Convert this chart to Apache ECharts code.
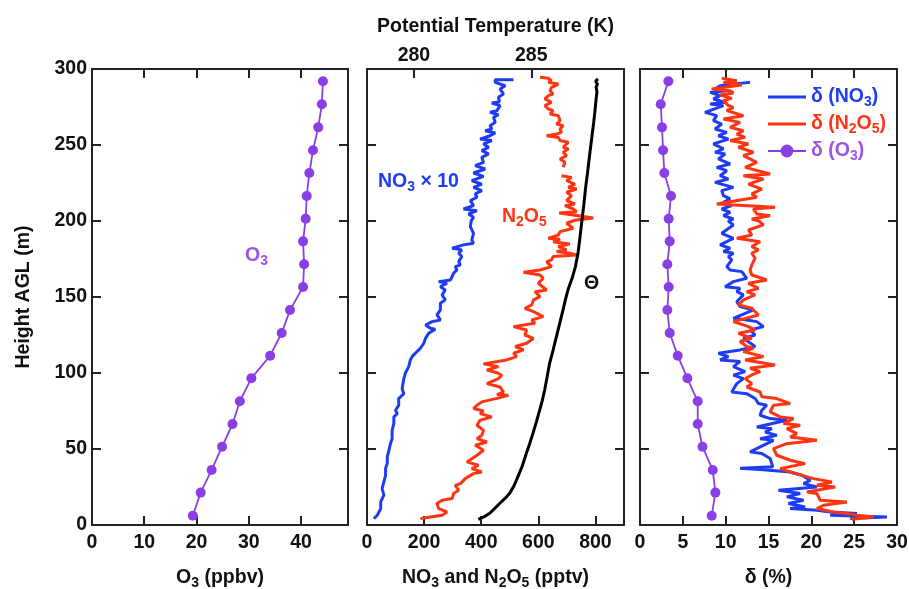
<!DOCTYPE html>
<html>
<head>
<meta charset="utf-8">
<script src="https://cdn.jsdelivr.net/npm/echarts@6/dist/echarts.min.js"></script>
<style>html,body{margin:0;padding:0;background:#fff}#c{width:909px;height:589px}</style>
</head>
<body>
<div id="c"></div>
<script>
// ---------- DATA ----------
// O3 profile (panel 1) and its uncertainty (panel 3)
const o3H = [6.1,21.3,36.2,51.5,66.4,81.4,96.5,111.4,126.3,141.4,156.6,171.5,186.6,201.5,216.5,231.6,246.5,261.6,276.8,291.9];
const o3V = [19.3,20.8,22.9,24.9,26.9,28.3,30.5,34.1,36.3,37.9,40.4,40.6,40.4,40.9,41.1,41.6,42.3,43.3,44.0,44.2];
const dO3V = [8.37,8.80,8.49,7.29,6.74,6.74,5.53,4.40,3.47,3.19,3.35,3.19,3.47,3.35,3.62,2.84,2.69,2.57,2.42,3.31];

// NO3 x 10 (pptv), panel 2
const no3H = [4.2,6.4,10.8,15.2,19.6,23.9,28.3,32.7,37.1,40.4,44.8,49.2,53.5,56.8,62.3,66.7,71.1,73.3,75.5,78.8,83.2,86.4,89.7,96.3,100.2,104.2,108.6,110.8,114.1,116.3,119.6,122.8,126.1,128.8,129.4,131.6,133.8,134.9,138.2,141.5,145.9,148.1,151.4,154.6,156.8,157.9,159,160.1,161.2,163.4,165.6,167.8,170,171.1,173.3,176.6,178.8,181,182.1,183.2,184.3,185.3,187.5,191.9,196.3,200.2,202.4,204.6,206.8,207.9,210.1,213.4,215.6,217.8,220,222.1,224.3,226.5,229.4,231.6,234.2,236.4,238.6,241.9,244.1,246.3,248.5,250.7,252.9,253.9,256.1,257.9,259.4,260.5,262.7,264.9,268.2,270,271.5,272.6,275.9,277.6,278.5,281.4,283.6,286.8,289,291.2,293,293];
const no3V = [24,36,48,48,59,53,59,65,65,71,71,77,82,88,88,94,94,106,100,111,111,129,123,129,135,146,152,158,175,187,199,205,216,239,222,205,228,257,245,257,257,274,263,274,257,268,280,251,292,298,303,315,309,327,321,332,321,332,298,303,338,373,367,373,362,365,373,356,385,338,373,362,385,379,402,373,402,367,408,373,414,379,408,402,426,402,426,408,437,396,431,449,414,437,431,449,443,460,431,455,466,437,464,460,478,466,484,449,449,513];

// N2O5 (pptv), panel 2 (null = data gap)
const n2o5H = [4.2,5.3,6.4,8.6,10.8,14.1,16.3,17.4,20.7,22.9,26.1,27.2,30.5,33.8,34.9,37.1,39.3,41.5,45.9,49.2,52.5,54.6,56.8,59,62.3,65.6,68.9,71.1,73.3,75,76.6,78.8,81,83.8,85.4,85.8,87.5,90.8,93,96.3,98.5,100.2,102,104.2,106,108.6,110.8,113,115.2,117.4,119.6,122.8,125,128.3,130.5,132.7,134.9,137.1,140.4,142.6,144.8,148.1,150.3,153.5,154.6,159,162.3,164.5,166.3,167.8,170,173.3,174.4,176.6,177.7,178.8,179.9,181,183.2,184.9,186.4,188,188.6,190.8,193,195.2,198.5,200.5,202,203.5,205.3,206.1,207.9,210.1,211.2,213.4,216.7,218.9,221,222.1,224.3,226.5,228.7,229.8,232.5,235.3,236.4,238.6,240.8,243,245.2,247.4,248.5,251.8,252.9,255,256.1,257.2,258.3,260.5,262.7,263.8,266,269.3,270.4,272.6,273.7,275.9,278.1,280.3,282.5,283.6,285.7,287.9,290.1,291.2,292.3,293.9,294.5];
const n2o5V = [187,222,263,280,251,245,263,298,303,321,309,327,344,373,402,367,390,350,385,408,379,420,385,402,408,385,396,437,396,408,373,385,402,466,495,455,478,466,420,460,472,455,420,460,408,489,524,513,548,519,559,583,553,559,513,588,577,617,583,553,577,583,606,588,629,600,617,606,548,606,646,629,646,652,734,710,664,699,670,710,652,676,635,670,676,722,699,728,792,740,673,734,722,693,728,699,716,699,734,705,728,699,716,681,null,687,681,693,676,699,687,705,687,705,676,670,629,664,681,676,687,664,676,670,641,652,635,623,646,623,635,652,641,646,670,635,646,635,606];

// Potential temperature (K), panel 2 top axis
const thetaH = [3.7,5.5,7.7,11,14.3,17.5,20.9,26,31.8,39,47.2,53,60.3,68,75.7,82,88.8,97,106.4,115,123.9,132,141.4,148,154.6,163.4,170,178.7,190,200.7,211,222.6,231,240.1,249,257.7,265,272,280,285,288,290,292,293.5];
const thetaV = [282.74,283.0,283.23,283.45,283.66,283.88,284.08,284.27,284.43,284.62,284.79,284.92,285.07,285.22,285.36,285.47,285.57,285.67,285.78,285.93,286.07,286.2,286.35,286.45,286.56,286.76,286.88,286.99,287.08,287.16,287.24,287.32,287.39,287.46,287.53,287.6,287.66,287.71,287.76,287.8,287.76,287.82,287.74,287.84];

// delta(NO3) %, panel 3
const dNo3H = [4.2,5.3,6.4,7.5,8.6,9.7,10.8,11.9,14.1,16.3,18.5,20.7,22.8,25,27.2,29.4,32.7,34.9,36.5,37.3,38.3,43.7,47,48.1,53.5,55.7,56.8,59,61.2,63.4,64.5,68.9,70,72.2,75.5,78.8,79.9,83.2,86.4,87.5,93,96.3,98.6,100.9,104.2,107.5,108.6,110.8,113,115.2,117.4,122.8,125,128.3,130.5,133.8,134.9,136,141.5,143.7,147,151.4,153.5,155.7,156.8,160.1,162.3,166.7,167.8,170,174.4,176.6,178.8,179.9,182.1,184.3,188.6,191.9,197.4,199.9,201.3,203.5,205.7,207.9,210.1,212.3,214.5,216.7,220,222.1,225.4,227.6,229.8,233.1,235.3,237.5,240.8,244.1,245.2,247.4,250.7,253.9,256.1,258.3,260.5,263.8,266,269.3,271.5,275.9,277,278.1,280.3,282.5,284.6,285.7,286.8,289,290.1,291.2];
const dNo3V = [24.54,28.83,22.2,25.32,22.2,20.65,17.53,19.28,17.33,19.09,17.14,18.7,16.16,20.65,19.09,19.87,18.89,17.53,14.0,11.68,15.5,15.19,14.22,12.85,14.8,15.58,14.02,15.97,14.61,15.39,13.63,17.14,15.19,14.02,14.22,14.8,13.83,13.44,12.46,10.71,11.3,12.07,10.9,12.27,10.9,11.68,9.35,10.32,9.15,11.68,13.44,12.07,13.44,12.85,14.41,13.63,12.46,10.9,13.24,11.68,11.3,12.07,11.3,11.68,9.93,10.9,12.46,11.88,10.52,10.13,10.71,10.32,10.9,9.74,10.52,9.35,10.9,9.54,10.9,10.3,10.9,9.74,10.52,9.54,10.71,9.74,10.52,9.74,9.54,10.9,8.76,10.32,9.35,10.13,8.96,10.52,9.15,9.93,8.76,9.74,8.57,10.32,9.15,10.13,8.76,9.54,8.57,8.96,7.59,9.74,8.18,9.93,8.57,9.35,8.18,10.13,8.76,9.35,10.9,12.85];

// delta(N2O5) %, panel 3
const dN2o5H = [3.8,5.3,6.4,7.5,8.6,10.8,13,15.2,16.3,20.7,21.7,25,26.1,28.3,30.5,34.9,37.1,40.4,42.6,45.9,50.3,53.5,55.7,57.9,60.1,63.4,65.6,66.7,70,71.1,74.4,78.8,79.9,83.2,84.3,87.5,90.8,93,96.3,98.7,100.9,103.1,105.3,108.6,110.8,114.1,116.3,117.4,120.7,122.8,126.1,128.3,130.5,133.8,138.2,142.6,144.8,148.1,151.4,153.5,155.7,159,161.2,164.5,167.8,171.1,175.5,178.8,181,183.2,186.4,188.6,190.8,194.1,197.4,199.9,201.3,203.5,204.6,207.9,209,211.2,215.6,217.8,221,224.3,227.6,229.8,230.9,235.3,238.6,243,245.2,248.5,250.7,252.9,255,257.2,259.4,261.6,264.9,267.1,269.3,272.6,274.8,275.9,279.2,280.7,282.9,284.2,285.7,286.8,289.5,291.2,292.3,293.9];
const dN2o5V = [24.74,27.27,25.32,24.15,22.59,20.65,21.42,24.15,21.03,20.65,19.48,22.79,20.65,22.4,20.26,17.53,16.36,19.28,17.53,15.97,15.58,17.14,20.65,17.53,18.31,17.14,18.7,16.75,17.92,16.36,15.19,15.58,17.53,15.97,14.22,14.02,12.46,13.05,12.27,13.05,14.02,12.85,15.77,12.27,14.41,12.07,13.24,12.46,11.68,13.05,11.49,13.44,12.66,10.9,13.83,13.05,11.49,12.07,13.44,12.46,13.83,12.66,14.8,13.05,12.85,13.05,13.44,13.05,13.83,13.05,14.02,11.3,13.05,12.66,14.41,13.9,13.05,15.19,13.63,13.24,15.77,8.96,13.63,13.05,14.22,12.66,14.41,12.07,15.19,12.27,13.63,12.07,13.24,11.49,12.66,10.52,12.27,11.3,12.07,10.52,11.68,9.74,12.07,10.13,10.9,10.32,9.74,10.71,9.35,10.9,10.52,8.37,11.88,9.74,11.3,9.54];

// Axis ticks
const thetaTicks = [280,285];

// ---------- STYLE ----------
const FF = '"Liberation Sans", Arial, Helvetica, sans-serif';
const FS = 19.5, SS = 14;
const BLUE = '#1f3cf5', RED = '#ff3412', PURPLE = '#8a3ee6', PURPLE_T = '#9b55e6', BLACK = '#000';
const FRAME = '#222';
function rich(color, p, key) {
  const o = {};
  o[p + 'b'] = {fontFamily: FF, fontSize: FS, fontWeight: 'bold', lineHeight: 24};
  o[p + 's'] = {fontFamily: FF, fontSize: SS, fontWeight: 'bold', lineHeight: 12, verticalAlign: 'bottom'};
  o[p + 'b'][key] = color; o[p + 's'][key] = color;
  return o;
}
const pair = (xs, hs) => xs.map((x, i) => x == null ? ['-', '-'] : [x, hs[i]]);

const tickStyle = {show: true, inside: true, length: 9, lineStyle: {color: FRAME, width: 2}};
const lineStyle = {show: true, onZero: false, lineStyle: {color: FRAME, width: 2}};
const labelStyle = {fontFamily: FF, fontSize: FS, fontWeight: 'bold', color: '#111'};

function xAx(grid, pos, min, max, interval, showLabel, extra) {
  return Object.assign({
    type: 'value', gridIndex: grid, position: pos, min: min, max: max, interval: interval,
    axisLine: lineStyle, axisTick: tickStyle, splitLine: {show: false},
    axisLabel: Object.assign({show: showLabel, margin: pos === 'top' ? 3 : 8, showMaxLabel: max % interval === 0}, labelStyle)
  }, extra || {});
}
function yAx(grid, pos, showLabel, extra) {
  return Object.assign({
    type: 'value', gridIndex: grid, position: pos, min: 0, max: 300, interval: 50,
    axisLine: lineStyle, axisTick: tickStyle, splitLine: {show: false},
    axisLabel: Object.assign({show: showLabel, margin: 5}, labelStyle)
  }, extra || {});
}

const allRich = Object.assign({}, rich('#111', 'k', 'color'), rich(BLUE, 'n', 'color'), rich(RED, 'r', 'color'), rich(PURPLE_T, 'p', 'color'));
const gRich = Object.assign({}, rich('#111', 'k', 'fill'), rich(BLUE, 'n', 'fill'), rich(RED, 'r', 'fill'), rich(PURPLE_T, 'p', 'fill'));
const nameStyle = {rich: allRich};

const option = {
  animation: false,
  backgroundColor: '#fff',
  grid: [
    {left: 92, top: 69, width: 256, height: 456, containLabel: false, outerBoundsMode: 'none'},
    {left: 367, top: 69, width: 257, height: 456, containLabel: false, outerBoundsMode: 'none'},
    {left: 640, top: 69, width: 257, height: 456, containLabel: false, outerBoundsMode: 'none'}
  ],
  xAxis: [
    xAx(0, 'bottom', 0, 49, 10, true, {name: '{kb|O}{ks|3}{kb| (ppbv)}', nameLocation: 'middle', nameGap: 41, nameTextStyle: nameStyle}),
    xAx(0, 'top', 0, 49, 10, false),
    xAx(1, 'bottom', 0, 900, 200, true, {name: '{kb|NO}{ks|3}{kb| and N}{ks|2}{kb|O}{ks|5}{kb| (pptv)}', nameLocation: 'middle', nameGap: 41, nameTextStyle: nameStyle}),
    xAx(1, 'top', 278, 288.95, 1, true, {
      name: '{kb|Potential Temperature (K)}', nameLocation: 'middle', nameGap: 30, nameTextStyle: nameStyle,
      axisTick: Object.assign({}, tickStyle, {customValues: thetaTicks}),
      axisLabel: Object.assign({show: true, margin: 3, customValues: thetaTicks}, labelStyle)
    }),
    xAx(2, 'bottom', 0, 30, 5, true, {name: '{kb|δ (%)}', nameLocation: 'middle', nameGap: 41, nameTextStyle: nameStyle}),
    xAx(2, 'top', 0, 30, 5, false)
  ],
  yAxis: [
    yAx(0, 'left', true, {name: '{kb|Height AGL (m)}', nameLocation: 'middle', nameGap: 56, nameRotate: 90, nameTextStyle: nameStyle}),
    yAx(0, 'right', false),
    yAx(1, 'left', false),
    yAx(1, 'right', false),
    yAx(2, 'left', false),
    yAx(2, 'right', false)
  ],
  legend: {
    orient: 'vertical', left: 762, top: 82, itemWidth: 38, itemHeight: 16, itemGap: 5,
    selectedMode: false,
    data: [
      {name: 'dNO3', icon: 'path://M0,0 L38,0 L38,3 L0,3 Z'},
      {name: 'dN2O5', icon: 'path://M0,0 L38,0 L38,3 L0,3 Z'},
      {name: 'dO3'}
    ],
    formatter: function (n) {
      return {dNO3: '{nb|δ (NO}{ns|3}{nb|)}', dN2O5: '{rb|δ (N}{rs|2}{rb|O}{rs|5}{rb|)}', dO3: '{pb|δ (O}{ps|3}{pb|)}'}[n];
    },
    textStyle: {rich: allRich}
  },
  graphic: [
    {type: 'text', x: 245, y: 244, style: {text: '{pb|O}{ps|3}', rich: gRich}},
    {type: 'text', x: 378, y: 170, style: {text: '{nb|NO}{ns|3}{nb| × 10}', rich: gRich}},
    {type: 'text', x: 502, y: 205, style: {text: '{rb|N}{rs|2}{rb|O}{rs|5}', rich: gRich}},
    {type: 'text', x: 584, y: 272, style: {text: '{kb|Θ}', rich: gRich}}
  ],
  series: [
    {name: 'O3', type: 'line', xAxisIndex: 0, yAxisIndex: 0, data: pair(o3V, o3H),
     symbol: 'circle', symbolSize: 10, itemStyle: {color: PURPLE}, lineStyle: {color: PURPLE, width: 1.8}},
    {name: 'NO3x10', type: 'line', xAxisIndex: 2, yAxisIndex: 2, data: pair(no3V, no3H),
     showSymbol: false, symbol: 'none', lineStyle: {color: BLUE, width: 3}, itemStyle: {color: BLUE}},
    {name: 'N2O5', type: 'line', xAxisIndex: 2, yAxisIndex: 2, data: pair(n2o5V, n2o5H),
     showSymbol: false, symbol: 'none', lineStyle: {color: RED, width: 3}, itemStyle: {color: RED}},
    {name: 'Theta', type: 'line', xAxisIndex: 3, yAxisIndex: 2, data: pair(thetaV, thetaH),
     showSymbol: false, symbol: 'none', lineStyle: {color: BLACK, width: 3}, itemStyle: {color: BLACK}},
    {name: 'dNO3', type: 'line', xAxisIndex: 4, yAxisIndex: 4, data: pair(dNo3V, dNo3H),
     showSymbol: false, symbol: 'none', lineStyle: {color: BLUE, width: 3}, itemStyle: {color: BLUE}},
    {name: 'dN2O5', type: 'line', xAxisIndex: 4, yAxisIndex: 4, data: pair(dN2o5V, dN2o5H),
     showSymbol: false, symbol: 'none', lineStyle: {color: RED, width: 3}, itemStyle: {color: RED}},
    {name: 'dO3', type: 'line', xAxisIndex: 4, yAxisIndex: 4, data: pair(dO3V, o3H),
     symbol: 'circle', symbolSize: 10, itemStyle: {color: PURPLE}, lineStyle: {color: PURPLE, width: 1.8}}
  ]
};
const chart = echarts.init(document.getElementById('c'), null, {renderer: 'canvas'});
chart.setOption(option);
</script>
</body>
</html>
